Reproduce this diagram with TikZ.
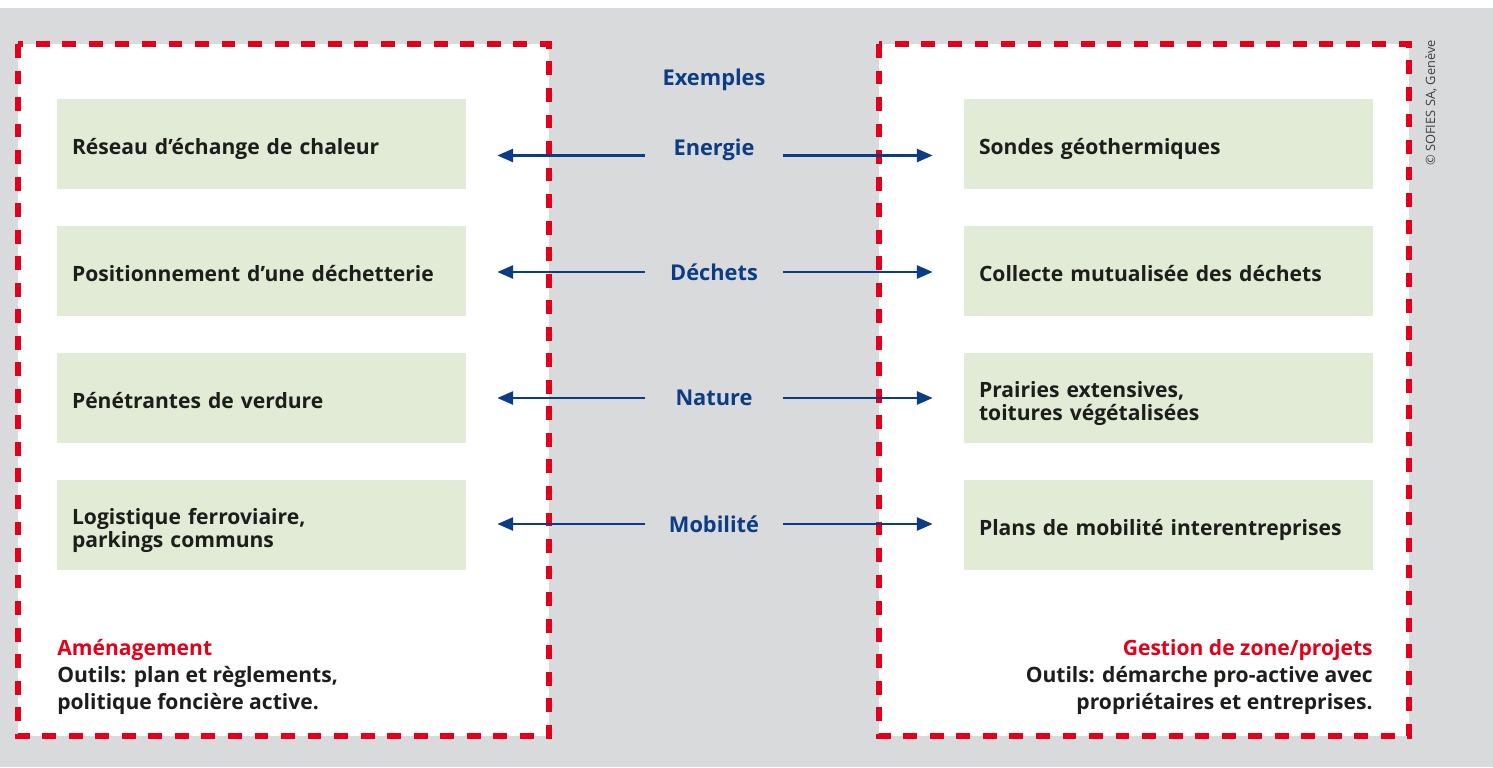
\documentclass[tikz,border=0pt]{standalone}
\usepackage{fontspec}
\setmainfont{Open Sans}
\usetikzlibrary{arrows.meta, positioning}

\definecolor{fondgris}{HTML}{D9DADC}
\definecolor{rouge}{HTML}{E2001A}
\definecolor{vertpale}{HTML}{E1EBD6}
\definecolor{bleu}{HTML}{0C3C85}
\definecolor{encre}{HTML}{1D1D1B}

\begin{document}
\begin{tikzpicture}[
    x=0.02cm, y=-0.02cm,
    cadre/.style={draw=rouge, line width=2.9pt, fill=white, dash pattern=on 7.9pt off 7.2pt},
    bloc/.style={fill=vertpale, minimum width=8.18cm, minimum height=1.8cm, text width=7.58cm,
        inner xsep=0.3cm, align=left, text=encre, font=\fontsize{12}{12.8}\selectfont\bfseries,
        execute at begin node={\rule[-0.12cm]{0pt}{0.66cm}}},
    theme/.style={text=bleu, minimum width=2.76cm, inner sep=0, font=\fontsize{12.4}{14}\selectfont\bfseries},
    fleche/.style={-{Triangle[length=9pt, width=7.4pt]}, draw=bleu, line width=1.5pt, shorten >=0.62cm},
    outils/.style={inner sep=0, text=encre, font=\fontsize{12}{15.3}\selectfont\bfseries}
]
    % fond
    \useasboundingbox (0,0) rectangle (1493,767);
    \fill[fondgris] (0,8) rectangle (1493,767);

    % cadres
    \draw[cadre] (18,44) rectangle (549,736);
    \draw[cadre] (879,44) rectangle (1409,736);

    % blocs gauche
    \node[bloc] (res) at (261.5,144) {Réseau d’échange de chaleur};
    \node[bloc] (pos) at (261.5,271) {Positionnement d’une déchetterie};
    \node[bloc] (pen) at (261.5,398) {Pénétrantes de verdure};
    \node[bloc] (log) at (261.5,525) {Logistique ferroviaire,\\parkings communs};

    % blocs droite
    \node[bloc] (son) at (1168.5,144) {Sondes géothermiques};
    \node[bloc] (col) at (1168.5,271) {Collecte mutualisée des déchets};
    \node[bloc] (pra) at (1168.5,398) {Prairies extensives,\\toitures végétalisées};
    \node[bloc] (pla) at (1168.5,525) {Plans de mobilité interentreprises};

    % exemples
    \node[theme] (exemples) at (714,80) {Exemples};
    \node[theme] (energie) at (714,150) {Energie};
    \node[theme] (dechets) at (714,272) {Déchets};
    \node[theme] (nature) at (714,398) {Nature};
    \node[theme] (mobilite) at (714,524) {Mobilité};

    \coordinate (eg) at ([yshift=-0.11cm]energie.west);
    \coordinate (ed) at ([yshift=-0.11cm]energie.east);
    \draw[fleche] (eg) -- (eg -| res.east);
    \draw[fleche] (ed) -- (ed -| son.west);
    \draw[fleche] (dechets.west) -- (dechets.west -| pos.east);
    \draw[fleche] (dechets.east) -- (dechets.east -| col.west);
    \draw[fleche] (nature.west) -- (nature.west -| pen.east);
    \draw[fleche] (nature.east) -- (nature.east -| pra.west);
    \draw[fleche] (mobilite.west) -- (mobilite.west -| log.east);
    \draw[fleche] (mobilite.east) -- (mobilite.east -| pla.west);

    % outils
    \node[outils, anchor=north west, align=left] (amenag) at (57,639)
        {\textcolor{rouge}{Aménagement}\\Outils: plan et règlements,\\politique foncière active.};
    \node[outils, anchor=north east, align=right] (gestion) at (1373,639)
        {\textcolor{rouge}{Gestion de zone/projets}\\Outils: démarche pro-active avec\\propriétaires et entreprises.};

    % copyright
    \node[rotate=90, inner sep=0, text=encre!85, font=\fontsize{7.3}{9}\selectfont] (copy) at (1431,103)
        {© SOFIES SA, Genève};
\end{tikzpicture}
\end{document}
